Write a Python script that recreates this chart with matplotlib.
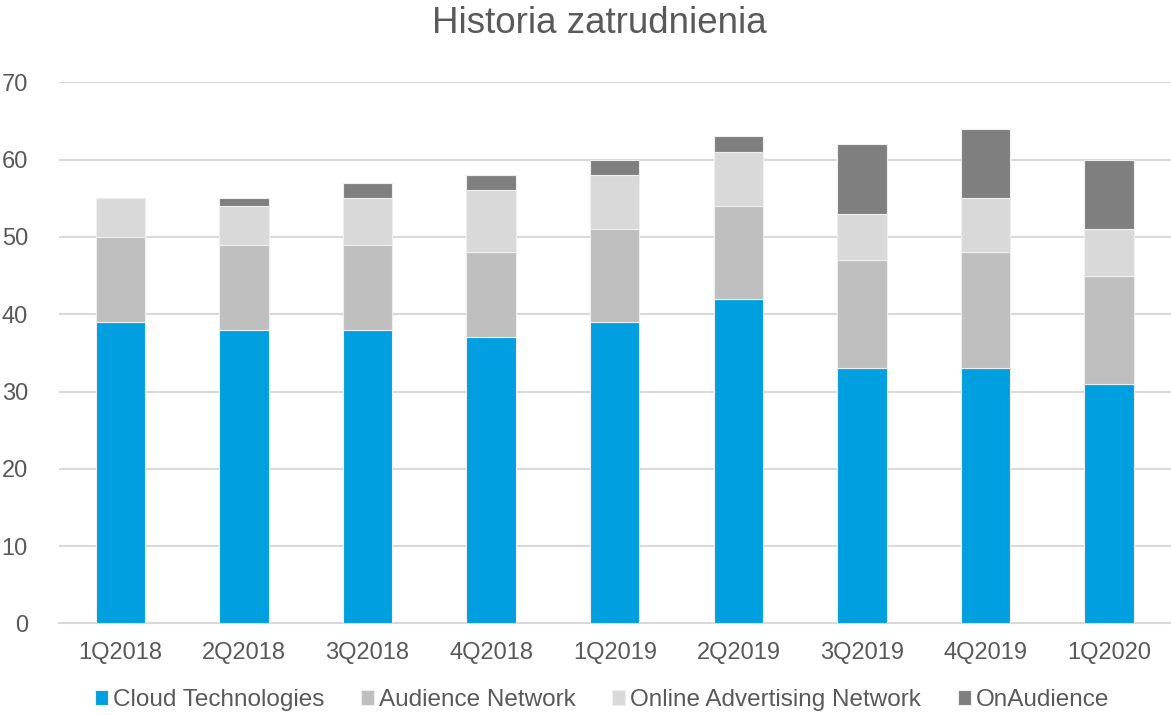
import numpy as np
import matplotlib.pyplot as plt

# -----------------------------
# Data
# -----------------------------
quarters = ['1Q2018', '2Q2018', '3Q2018', '4Q2018', '1Q2019',
            '2Q2019', '3Q2019', '4Q2019', '1Q2020']
cloud = [39, 38, 38, 37, 39, 42, 33, 33, 31]
audience = [11, 11, 11, 11, 12, 12, 14, 15, 14]
online_adv = [5, 5, 6, 8, 7, 7, 6, 7, 6]
onaudience = [0, 1, 2, 2, 2, 2, 9, 9, 9]

series_names = ['Cloud Technologies', 'Audience Network',
                'Online Advertising Network', 'OnAudience']
series_colors = ['#009FDF', '#BFBFBF', '#D9D9D9', '#7F7F7F']

plt.rcParams['font.family'] = ['Liberation Sans', 'DejaVu Sans']
text_col = '#595959'

fig = plt.figure(figsize=(11.71, 7.15), dpi=100)
ax = fig.add_axes([0.05, 0.128, 0.95, 0.757])

x = np.arange(len(quarters))
bottom = np.zeros(len(quarters))
for vals, name, col in zip([cloud, audience, online_adv, onaudience],
                           series_names, series_colors):
    vals = np.array(vals, dtype=float)
    ax.bar(x, vals, width=0.4, bottom=bottom, color=col, label=name,
           edgecolor='#EEEEEE', linewidth=0.8, zorder=3)
    bottom += vals

ax.set_xlim(-0.5, len(quarters) - 0.5)
ax.set_ylim(0, 70)
ax.set_yticks(range(0, 71, 10))
ax.set_xticks(x)
ax.set_xticklabels(quarters)
ax.tick_params(axis='both', length=0, labelsize=17, colors=text_col)
ax.tick_params(axis='x', pad=13)
ax.tick_params(axis='y', pad=22)
ax.grid(axis='y', color='#D9D9D9', linewidth=1.5, zorder=0)
for s in ['top', 'right', 'left']:
    ax.spines[s].set_visible(False)
ax.spines['bottom'].set_color('#D9D9D9')
ax.spines['bottom'].set_linewidth(1.5)

fig.suptitle('Historia zatrudnienia', fontsize=26.5, color=text_col,
             x=0.512, y=0.992)

fig.legend(loc='lower center', bbox_to_anchor=(0.514, -0.025), ncol=4,
           frameon=False, fontsize=17.5, labelcolor=text_col,
           handlelength=0.55, handleheight=0.55, handletextpad=0.2,
           columnspacing=1.5)

fig.savefig('out.png', dpi=100)
